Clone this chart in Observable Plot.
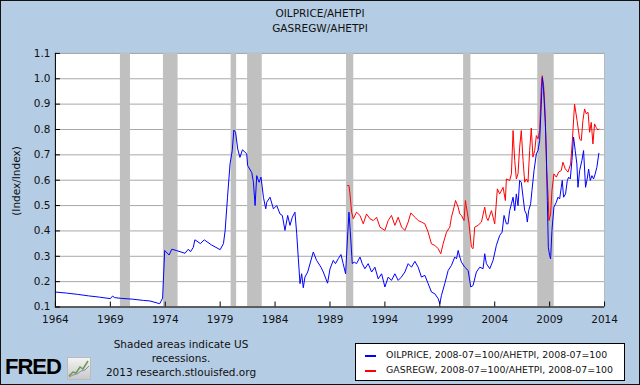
<!DOCTYPE html>
<html>
<head>
<meta charset="utf-8">
<script src="https://cdn.jsdelivr.net/npm/d3@7"></script>
<script src="https://cdn.jsdelivr.net/npm/@observablehq/plot@0.6"></script>
<style>
  html, body { margin: 0; padding: 0; background: #B4CCE4; }
  #wrap { position: relative; width: 640px; height: 385px; background: #B4CCE4; box-sizing: border-box;
          border: 1px solid #111; overflow: hidden; font-family: "DejaVu Sans", Verdana, sans-serif; color: #111; }
  #chart { position: absolute; left: -1px; top: -1px; }
  .abs { position: absolute; white-space: nowrap; }
  .title { left: -1px; width: 640px; text-align: center; font-size: 10.5px; line-height: 14px; }
  #ylabel { left: 15px; top: 180px; font-size: 10.5px; transform: translate(-50%, -50%) rotate(-90deg); }
  #foot { left: 94px; top: 336px; width: 172px; text-align: center; font-size: 10.5px; line-height: 14px; }
  #legend { left: 354px; top: 342px; width: 270px; height: 38px; background: #fff; border: 1px solid #000; box-sizing: border-box; }
  .li { position: absolute; left: 0; font-size: 9.4px; }
  .sw { position: absolute; left: 9px; width: 11px; height: 2px; }
  .lt { position: absolute; left: 30px; top: -6px; }
  #fred { left: 4px; top: 353px; font-family: "Liberation Sans", Arial, sans-serif; font-weight: bold; font-size: 22px; letter-spacing: -1px; color: #000; }
  #icon { left: 66px; top: 356px; }
</style>
</head>
<body>
<div id="wrap">
  <div id="chart"></div>
  <div class="abs title" style="top:5px">OILPRICE/AHETPI</div>
  <div class="abs title" style="top:20px">GASREGW/AHETPI</div>
  <div class="abs" id="ylabel">(Index/Index)</div>
  <div class="abs" id="foot">Shaded areas indicate US<br>recessions.<br>2013 research.stlouisfed.org</div>
  <div class="abs" id="fred">FRED</div>
  <svg class="abs" id="icon" width="24" height="23" viewBox="0 0 24 23">
    <defs><linearGradient id="g" x1="0" y1="0" x2="0" y2="1"><stop offset="0" stop-color="#f4f4f4"/><stop offset="1" stop-color="#c8c8c8"/></linearGradient></defs>
    <rect x="0.5" y="0.5" width="23" height="22" fill="url(#g)" stroke="#bbb"/>
    <polyline points="2,19 6,15 9,16 13,10 16,12 21,4" fill="none" stroke="#6a9a4a" stroke-width="1.5"/>
    <polyline points="2,20 6,18 10,17 14,14 18,13 22,9" fill="none" stroke="#7a8fb8" stroke-width="1"/>
  </svg>
  <div class="abs" id="legend">
    <div class="li" style="top:11px"><div class="sw" style="background:#0000ff"></div><div class="lt">OILPRICE, 2008-07=100/AHETPI, 2008-07=100</div></div>
    <div class="li" style="top:26px"><div class="sw" style="background:#ff0000"></div><div class="lt">GASREGW, 2008-07=100/AHETPI, 2008-07=100</div></div>
  </div>
</div>
<script>
// Tick values
const xTicks = [1964, 1969, 1974, 1979, 1984, 1989, 1994, 1999, 2004, 2009, 2014];
const yTicks = [0.1, 0.2, 0.3, 0.4, 0.5, 0.6, 0.7, 0.8, 0.9, 1.0, 1.1];

// US recessions (start, end) in decimal years
const recessions = [
  [1969.917, 1970.833], [1973.833, 1975.167], [1980.0, 1980.5], [1981.5, 1982.833],
  [1990.5, 1991.167], [2001.167, 2001.833], [2007.917, 2009.417]
];

// OILPRICE/AHETPI (decimal year, ratio)
const oilRatio = [
  [1964.0,0.159],[1965.0,0.155],[1966.0,0.150],[1967.0,0.144],[1968.0,0.139],[1969.0,0.133],[1969.2,0.143],
  [1969.4,0.137],[1970.0,0.134],[1971.0,0.131],[1972.0,0.126],[1972.6,0.124],[1973.5,0.113],[1973.76,0.135],
  [1973.95,0.323],[1974.35,0.305],[1974.6,0.328],[1975.0,0.323],[1975.8,0.312],[1976.1,0.328],[1976.3,0.318],
  [1976.55,0.335],[1976.7,0.365],[1977.2,0.350],[1977.55,0.365],[1978.2,0.345],[1979.0,0.326],[1979.3,0.350],
  [1979.45,0.400],[1979.67,0.533],[1979.9,0.664],[1980.1,0.717],[1980.25,0.798],[1980.4,0.789],[1980.6,0.723],
  [1980.8,0.690],[1981.03,0.720],[1981.42,0.704],[1981.5,0.658],[1981.88,0.630],[1982.03,0.592],[1982.18,0.500],
  [1982.33,0.618],[1982.54,0.592],[1982.72,0.612],[1982.94,0.533],[1983.15,0.487],[1983.24,0.513],[1983.54,0.533],
  [1983.85,0.487],[1984.15,0.500],[1984.45,0.467],[1984.66,0.461],[1984.9,0.402],[1985.15,0.461],[1985.36,0.422],
  [1985.57,0.454],[1985.81,0.474],[1985.97,0.389],[1986.12,0.290],[1986.27,0.192],[1986.42,0.231],[1986.57,0.176],
  [1986.72,0.218],[1986.97,0.238],[1987.48,0.317],[1987.78,0.284],[1988.18,0.257],[1988.39,0.238],[1988.78,0.194],
  [1989.0,0.250],[1989.3,0.284],[1989.5,0.271],[1989.76,0.291],[1990.0,0.307],[1990.2,0.271],[1990.42,0.231],
  [1990.6,0.376],[1990.73,0.474],[1990.88,0.376],[1991.03,0.271],[1991.21,0.277],[1991.42,0.271],[1991.73,0.297],
  [1991.94,0.271],[1992.18,0.251],[1992.48,0.271],[1992.79,0.238],[1993.09,0.257],[1993.39,0.211],[1993.7,0.231],
  [1994.0,0.179],[1994.3,0.218],[1994.6,0.205],[1994.91,0.231],[1995.21,0.205],[1995.5,0.218],[1995.82,0.238],
  [1996.12,0.271],[1996.42,0.257],[1996.73,0.280],[1997.03,0.257],[1997.33,0.218],[1997.64,0.225],[1997.94,0.192],
  [1998.24,0.159],[1998.55,0.152],[1998.85,0.133],[1999.0,0.113],[1999.15,0.146],[1999.45,0.192],[1999.76,0.244],
  [2000.06,0.264],[2000.36,0.297],[2000.52,0.290],[2000.67,0.323],[2000.82,0.297],[2000.97,0.277],[2001.27,0.257],
  [2001.58,0.244],[2001.82,0.179],[2002.03,0.185],[2002.33,0.238],[2002.64,0.257],[2002.94,0.251],[2003.09,0.310],
  [2003.24,0.271],[2003.55,0.251],[2003.85,0.284],[2004.15,0.343],[2004.45,0.382],[2004.67,0.395],[2004.85,0.461],
  [2005.06,0.428],[2005.21,0.428],[2005.36,0.480],[2005.52,0.507],[2005.67,0.533],[2005.82,0.480],[2005.97,0.546],
  [2006.12,0.500],[2006.27,0.599],[2006.42,0.592],[2006.58,0.533],[2006.73,0.480],[2006.88,0.467],[2006.97,0.435],
  [2007.09,0.480],[2007.27,0.507],[2007.39,0.559],[2007.58,0.638],[2007.79,0.704],[2007.94,0.717],[2008.09,0.756],
  [2008.24,0.900],[2008.33,1.005],[2008.45,0.953],[2008.61,0.828],[2008.7,0.704],[2008.79,0.520],[2008.88,0.336],
  [2009.0,0.303],[2009.09,0.290],[2009.21,0.402],[2009.39,0.494],[2009.61,0.513],[2009.76,0.533],[2009.91,0.526],
  [2010.06,0.572],[2010.15,0.599],[2010.27,0.533],[2010.45,0.546],[2010.61,0.599],[2010.73,0.612],[2010.88,0.605],
  [2011.03,0.678],[2011.18,0.770],[2011.33,0.717],[2011.48,0.664],[2011.58,0.572],[2011.73,0.638],[2011.94,0.678],
  [2012.09,0.717],[2012.27,0.572],[2012.42,0.605],[2012.55,0.644],[2012.7,0.599],[2012.85,0.618],[2013.0,0.605],
  [2013.15,0.625],[2013.3,0.651],[2013.48,0.706]
];

// GASREGW/AHETPI (decimal year, ratio)
const gasRatio = [
  [1990.6,0.579],[1990.73,0.579],[1990.82,0.546],[1990.97,0.474],[1991.12,0.448],[1991.42,0.474],[1991.73,0.461],
  [1992.03,0.428],[1992.33,0.467],[1992.64,0.448],[1992.94,0.441],[1993.24,0.454],[1993.55,0.415],[1994.0,0.402],
  [1994.3,0.441],[1994.6,0.461],[1994.91,0.422],[1995.21,0.454],[1995.52,0.415],[1995.82,0.402],[1996.12,0.435],
  [1996.36,0.471],[1996.73,0.454],[1997.03,0.441],[1997.33,0.435],[1997.64,0.428],[1997.94,0.395],[1998.24,0.349],
  [1998.55,0.343],[1998.85,0.330],[1999.09,0.310],[1999.3,0.349],[1999.61,0.395],[1999.91,0.415],[2000.06,0.454],
  [2000.3,0.494],[2000.43,0.520],[2000.67,0.494],[2000.82,0.467],[2000.97,0.461],[2001.21,0.441],[2001.33,0.520],
  [2001.52,0.467],[2001.64,0.435],[2001.88,0.336],[2002.03,0.330],[2002.18,0.415],[2002.48,0.422],[2002.79,0.435],
  [2003.09,0.494],[2003.24,0.454],[2003.39,0.441],[2003.7,0.480],[2004.0,0.428],[2004.24,0.566],[2004.45,0.546],
  [2004.76,0.572],[2004.97,0.520],[2005.06,0.605],[2005.36,0.599],[2005.52,0.625],[2005.67,0.796],[2005.82,0.678],
  [2005.97,0.605],[2006.12,0.625],[2006.27,0.730],[2006.42,0.796],[2006.58,0.678],[2006.73,0.592],[2006.88,0.605],
  [2007.03,0.592],[2007.18,0.717],[2007.33,0.806],[2007.48,0.691],[2007.64,0.717],[2007.79,0.776],[2007.94,0.763],
  [2008.09,0.796],[2008.24,0.966],[2008.33,1.012],[2008.45,0.973],[2008.55,0.900],[2008.64,0.782],[2008.73,0.638],
  [2008.85,0.546],[2008.94,0.441],[2009.09,0.467],[2009.21,0.559],[2009.39,0.625],[2009.61,0.612],[2009.82,0.632],
  [2010.06,0.638],[2010.21,0.671],[2010.42,0.645],[2010.67,0.632],[2010.91,0.664],[2011.06,0.750],[2011.27,0.900],
  [2011.5,0.835],[2011.73,0.763],[2011.88,0.756],[2012.03,0.835],[2012.18,0.881],[2012.33,0.862],[2012.5,0.868],
  [2012.64,0.789],[2012.79,0.828],[2012.94,0.743],[2013.09,0.822],[2013.24,0.808],[2013.39,0.798],[2013.48,0.802]
];

const chart = Plot.plot({
  width: 640,
  height: 385,
  marginLeft: 55,
  marginRight: 35,
  marginTop: 53,
  marginBottom: 78,
  style: { background: "transparent", fontFamily: "DejaVu Sans, Verdana, sans-serif", fontSize: "10.5px", color: "#111" },
  x: { domain: [1964, 2014] },
  y: { domain: [0.1, 1.1] },
  marks: [
    Plot.frame({ fill: "white", stroke: "#b8b8b8" }),
    Plot.ruleY(yTicks, { stroke: "#a8a8a8", strokeWidth: 1 }),
    Plot.rect(recessions, { x1: d => d[0], x2: d => d[1], fill: "#c0c0c0" }),
    Plot.line(gasRatio, { x: d => d[0], y: d => d[1], stroke: "#ff0000", strokeWidth: 1 }),
    Plot.line(oilRatio, { x: d => d[0], y: d => d[1], stroke: "#0000ff", strokeWidth: 1 }),
    Plot.ruleX([1964], { stroke: "#000" }),
    Plot.ruleY([0.1], { stroke: "#000" }),
    Plot.tickY(yTicks, { y: d => d, stroke: "#000", insetRight: 545 }),
    Plot.tickX(xTicks, { x: d => d, stroke: "#000", insetTop: 249 }),
    Plot.axisY({ ticks: yTicks, tickSize: 0, tickPadding: 5, tickFormat: ".1f", label: null, fill: "#111" }),
    Plot.axisX({ ticks: xTicks, tickSize: 0, tickPadding: 9, tickFormat: d => String(d), label: null, fill: "#111" })
  ]
});
document.getElementById("chart").appendChild(chart);
</script>
</body>
</html>
